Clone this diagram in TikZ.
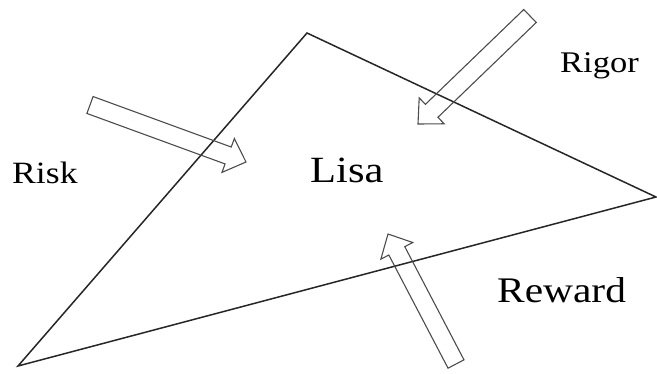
\documentclass[tikz,border=0pt]{standalone}
\usepackage{fontspec}
\setmainfont{Liberation Serif}
\usetikzlibrary{calc}

\tikzset{
  side/.style={line width=1.5pt, black!85, line join=miter},
  hollow/.style={line width=1.1pt, black!70, line join=miter},
  word/.style={anchor=base west, inner sep=0pt, text=black},
}

% hollow block arrow from #1 (tail) to #2 (tip)
\newcommand{\blockarrow}[2]{%
  \coordinate (#1b) at ($(#2)!19pt!(#1)$);
  \draw[hollow] ($(#1)!9pt!90:(#2)$) -- ($(#1b)!9pt!90:(#2)$)
    -- ($(#1b)!18pt!90:(#2)$) -- (#2) -- ($(#1b)!18pt!-90:(#2)$)
    -- ($(#1b)!9pt!-90:(#2)$) -- ($(#1)!9pt!-90:(#2)$) -- cycle;
}
\newcommand{\wide}[1]{\scalebox{1.15}[1]{#1}}

\begin{document}
\begin{tikzpicture}[x=1pt, y=-1pt]
        \useasboundingbox (0,0) rectangle (657,373);

        % Corners
        \coordinate (top) at (307,33);
        \coordinate (right) at (656,197);
        \coordinate (left) at (18,366);

        % Triangle
        \draw[side] (top) -- (right) -- (left) -- cycle;

        % Arrows pushing in
        \coordinate (riskT) at (90,105);
        \coordinate (riskH) at (246,162);
        \coordinate (rigorT) at (530,16);
        \coordinate (rigorH) at (418,124);
        \coordinate (rewardT) at (456,364);
        \coordinate (rewardH) at (388,234);
        \blockarrow{riskT}{riskH}
        \blockarrow{rigorT}{rigorH}
        \blockarrow{rewardT}{rewardH}

        % Labels
        \node[word, font=\fontsize{37}{37}\selectfont] (lisa) at (310,182) {\wide{Lisa}};
        \node[word, font=\fontsize{31}{31}\selectfont] (risk) at (12,183) {\wide{Risk}};
        \node[word, font=\fontsize{30}{30}\selectfont] (rigor) at (560,72) {\wide{Rigor}};
        \node[word, font=\fontsize{36}{36}\selectfont] (reward) at (497,302) {\wide{Reward}};
      \end{tikzpicture}
\end{document}
